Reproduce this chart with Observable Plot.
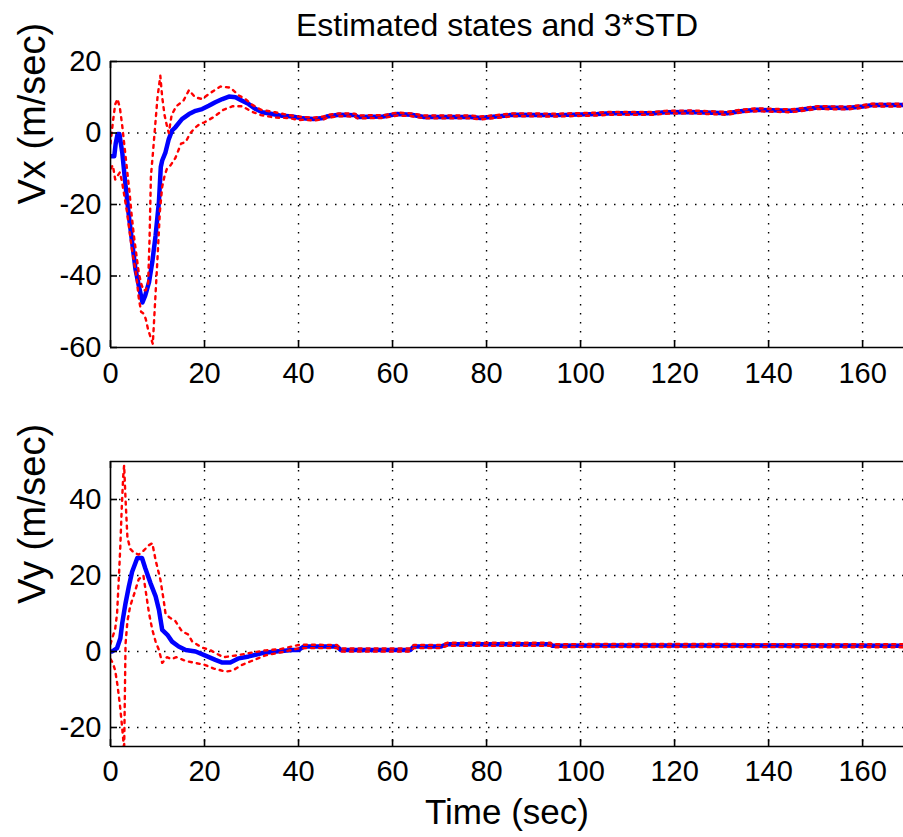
<!DOCTYPE html>
<html>
<head>
<meta charset="utf-8">
<script src="https://cdn.jsdelivr.net/npm/d3@7"></script>
<script src="https://cdn.jsdelivr.net/npm/@observablehq/plot@0.6"></script>
<style>
  html, body { margin: 0; padding: 0; background: #fff; overflow: hidden; }
  #wrap { position: relative; width: 903px; height: 837px; background: #fff; font-family: "Liberation Sans", Arial, Helvetica, sans-serif; }
  #title { position: absolute; z-index: 5; top: 9px; left: 497px; transform: translateX(-50%); white-space: nowrap; font-size: 32px; line-height: 32px; color: #000; }
  .panel { position: absolute; left: 0; z-index: 1; }
  .panel svg { display: block; }
</style>
</head>
<body>
<div id="wrap">
  <div class="panel" id="p1" style="top:0px"></div>
  <div class="panel" id="p2" style="top:420px"></div>
  <div id="title"></div>
</div>
<script>
// ---------- tick labels / domains ----------
const xTicks = [0, 20, 40, 60, 80, 100, 120, 140, 160];
const xDomain = [0, 168.7];
const vxTicks = [-60, -40, -20, 0, 20];
const vxDomain = [-60, 20];
const vyTicks = [-20, 0, 20, 40];
const vyDomain = [-25, 50];
const titleText = "Estimated states and 3*STD";
const vxLabel = "Vx (m/sec)";
const vyLabel = "Vy (m/sec)";
const xLabel = "Time (sec)";

// ---------- Vx estimate (blue) ----------
const vxT = [0, 0.8, 1.1, 1.5, 1.9, 2.5, 3.2, 3.9, 4.6, 5.3, 6.0, 6.8, 7.4, 8.2, 8.9, 9.6, 10.3, 10.7, 11.0, 11.7, 12.4, 13.1, 13.8, 15.2, 16.7, 18.1, 19.5, 20.9, 22.3, 23.8, 25.2, 26.6, 28.0, 29.4, 30.9, 32.3, 34.4, 36.5, 38.7, 40.8, 43.2, 45.3, 46, 48.6, 52, 52.5, 58, 61, 64, 66.7, 76.6, 78.7, 82, 85.8, 95, 103.6, 106.4, 115.6, 118, 123.4, 131.2, 134, 137.5, 144.7, 148, 150.4, 156.7, 160, 162, 168.7];
const vxEst = [-6.5, -6.5, -3, -0.3, -0.3, -5.4, -14.7, -23, -30.5, -38, -42.6, -47.4, -45.4, -41.7, -36, -28.6, -19.3, -9.5, -7.7, -5.4, -1.7, 0.7, 1.6, 3.9, 5.3, 6.2, 6.7, 7.6, 8.6, 9.5, 10.2, 10.0, 9.0, 8.1, 6.7, 5.8, 5.3, 4.8, 4.6, 4.1, 3.9, 4.2, 4.6, 5.1, 5.0, 4.5, 4.6, 5.3, 5.1, 4.5, 4.5, 4.2, 4.6, 5.1, 5.0, 5.3, 5.5, 5.5, 5.8, 5.9, 5.5, 6.1, 6.5, 6.2, 6.7, 7.1, 7.0, 7.4, 7.8, 7.8];

// ---------- Vx + 3 STD (red) ----------
const vxUpT = [0, 0.5, 1.0, 1.5, 2.0, 2.5, 3.0, 3.5, 4.0, 4.5, 5.0, 5.5, 6.0, 6.5, 7.0, 7.5, 8.0, 8.3, 8.6, 9.0, 9.5, 10.0, 10.6, 11.0, 11.5, 12.0, 12.4, 13.0, 14.0, 15.5, 16.7, 18.0, 19.5, 21.0, 23.4, 25.5, 27.3, 28.7, 30, 32, 35, 38, 40,
  40.8, 43.2, 45.3, 46, 48.6, 52, 52.5, 58, 61, 64, 66.7, 76.6, 78.7, 82, 85.8, 95, 103.6, 106.4, 115.6, 118, 123.4, 131.2, 134, 137.5, 144.7, 148, 150.4, 156.7, 160, 162, 168.7];
const vxUp = [-3, 3, 8, 9.5, 7, 2, -4, -10, -16, -23, -29, -34, -39, -42, -44, -44, -42, -30, -12, -6, 2, 10, 16, 10, 5, 2, 0, 5, 7.5, 9, 12, 10, 9.5, 11, 13, 12.7, 10.5, 9.5, 8, 6.5, 5.8, 5.0, 4.6,
  4.5, 4.3, 4.6, 5.0, 5.5, 5.4, 4.9, 5.0, 5.7, 5.5, 4.9, 4.9, 4.6, 5.0, 5.5, 5.4, 5.7, 5.9, 5.9, 6.2, 6.3, 5.9, 6.5, 6.9, 6.6, 7.1, 7.5, 7.4, 7.8, 8.2, 8.2];

// ---------- Vx - 3 STD (red) ----------
const vxLoT = [0, 0.5, 1.0, 1.5, 2.0, 2.5, 3.0, 3.5, 4.0, 4.5, 5.0, 5.5, 6.0, 6.5, 7.0, 7.5, 8.0, 8.5, 9.0, 9.5, 10.0, 10.5, 11.0, 11.5, 12.0, 12.8, 13.8, 15.0, 16.0, 17.0, 18.0, 19.0, 20.0, 22.0, 24.0, 26.0, 28.0, 30.0, 32.0, 35.0, 38, 40,
  40.8, 43.2, 45.3, 46, 48.6, 52, 52.5, 58, 61, 64, 66.7, 76.6, 78.7, 82, 85.8, 95, 103.6, 106.4, 115.6, 118, 123.4, 131.2, 134, 137.5, 144.7, 148, 150.4, 156.7, 160, 162, 168.7];
const vxLo = [-10, -9, -13, -12, -11, -14, -18, -22, -27, -32, -36, -40, -46, -50, -50.5, -52, -55, -57, -59, -47, -35, -22, -15, -12, -10, -9, -7, -3, -2.5, 0, 1.5, 2.5, 3, 4.5, 6.5, 7.5, 7.5, 6, 5, 4.3, 4.2, 3.6,
  3.7, 3.5, 3.8, 4.2, 4.7, 4.6, 4.1, 4.2, 4.9, 4.7, 4.1, 4.1, 3.8, 4.2, 4.7, 4.6, 4.9, 5.1, 5.1, 5.4, 5.5, 5.1, 5.7, 6.1, 5.8, 6.3, 6.7, 6.6, 7.0, 7.4, 7.4];

// ---------- Vy estimate (blue) ----------
const vyT = [0, 0.35, 1.4, 2.1, 2.5, 3.2, 3.9, 4.6, 5.7, 6.7, 7.4, 8.5, 9.6, 10.3, 11.0, 12.1, 13.1, 14.5, 16.0, 18.1, 20.2, 22.3, 23.8, 25.5, 27.3, 29.4, 32.3, 35.1, 38.7, 40.0, 41.1, 48.2, 49, 50.4, 63.8, 64.5, 70.2, 71.6, 93.6, 94, 104.3, 168.7];
const vyEst = [0, 0, 0.9, 3.5, 7.5, 12.7, 17.1, 21, 24.6, 24.6, 21.9, 18, 14.5, 11, 5.7, 4.4, 2.6, 1.3, 0.4, 0, -1.1, -2.2, -2.9, -2.9, -1.8, -1.3, -0.4, 0, 0.4, 0.4, 1.3, 1.3, 0.4, 0.4, 0.4, 1.3, 1.3, 1.9, 1.9, 1.5, 1.6, 1.5];

// ---------- Vy + 3 STD (red) ----------
const vyUpT = [0, 0.5, 1.0, 1.4, 1.8, 2.1, 2.4, 2.7, 2.9, 3.2, 3.6, 4.2, 5.0, 6.0, 7.0, 8.2, 8.9, 9.6, 10.6, 11.3, 11.7, 12.5, 13.8, 15.2, 16.5, 17.4, 19.5, 21, 24, 27, 30, 33, 36, 40, 42,
  48.2, 49, 50.4, 63.8, 64.5, 70.2, 71.6, 93.6, 94, 104.3, 168.7];
const vyUp = [2, 4, 6, 10, 20, 28, 38, 46, 49, 40, 30, 27, 26, 25.5, 26.5, 28, 28.5, 24, 19, 13.6, 10, 9, 8, 5.3, 4.5, 2.6, 1, 0.5, -1.5, -1, -0.3, 0.3, 0.6, 1.7, 1.8,
  1.7, 0.8, 0.8, 0.8, 1.7, 1.7, 2.3, 2.3, 1.9, 2.0, 1.9];

// ---------- Vy - 3 STD (red) ----------
const vyLoT = [0, 0.5, 1.0, 1.5, 2.0, 2.4, 2.7, 2.9, 3.2, 3.6, 4.2, 5.0, 6.0, 7.0, 8.2, 8.9, 9.6, 10.3, 11.0, 12.0, 13.0, 14.0, 16.0, 18.0, 20.0, 22.0, 23.0, 24.5, 26, 28.0, 30.0, 33.0, 36.0, 40.0, 42,
  48.2, 49, 50.4, 63.8, 64.5, 70.2, 71.6, 93.6, 94, 104.3, 168.7];
const vyLo = [-2, -3, -5, -9, -14, -19, -23, -26, 2, 8, 12, 15, 19, 20, 10, 5.7, 2.6, 0.4, -3, -1.5, -2, -1.5, -2.5, -3, -3.5, -4.5, -4.8, -5.3, -5, -3.5, -2.5, -1, -0.3, 0.8, 0.9,
  0.9, 0.0, 0.0, 0.0, 0.9, 0.9, 1.5, 1.5, 1.1, 1.2, 1.1];

// ---------- drawing ----------
const zip = (t, v) => t.map((x, i) => ({t: x, v: v[i]}));
const W = 903, TICK = 7;
const FONT = "'Liberation Sans', Arial, Helvetica, sans-serif";
const fmt = d => String(d);

function panel({height, marginTop, marginBottom, yDomain, yTicks, est, up, lo, yLabel, withXLabel}) {
  const marginLeft = 110, marginRight = 0;
  const fw = W - marginLeft - marginRight;
  const fh = height - marginTop - marginBottom;
  const gridStyle = {stroke: "black", strokeOpacity: 1, strokeWidth: 1.4, strokeDasharray: "1.5,7.5"};
  const redStyle = {stroke: "#ff0000", strokeWidth: 2.4, strokeDasharray: "3,5", clip: true};
  const marks = [
    Plot.ruleX(xTicks.filter(d => d > xDomain[0]), gridStyle),
    Plot.ruleY(yTicks.filter(d => d > yDomain[0] && d < yDomain[1]), gridStyle),
    Plot.line(est, {x: "t", y: "v", stroke: "#0000ff", strokeWidth: 4.5, clip: true}),
    Plot.line(up, {x: "t", y: "v", ...redStyle}),
    Plot.line(lo, {x: "t", y: "v", ...redStyle}),
    Plot.ruleX([xDomain[0]], {stroke: "black", strokeWidth: 1.6}),
    Plot.ruleY([yDomain[0]], {stroke: "black", strokeWidth: 1.6}),
    Plot.ruleY([yDomain[1]], {stroke: "black", strokeWidth: 1.6}),
    Plot.tickX(xTicks, {x: d => d, stroke: "black", strokeWidth: 1.6, insetTop: fh - TICK}),
    Plot.tickX(xTicks, {x: d => d, stroke: "black", strokeWidth: 1.6, insetBottom: fh - TICK}),
    Plot.tickY(yTicks, {y: d => d, stroke: "black", strokeWidth: 1.6, insetRight: fw - TICK}),
    Plot.text([yLabel], {text: d => d, frameAnchor: "left", dx: -78, rotate: -90, fontSize: 38, fill: "black"})
  ];
  if (withXLabel) {
    marks.push(Plot.text([xLabel], {text: d => d, frameAnchor: "bottom", lineAnchor: "bottom", dy: 77, fontSize: 35, fill: "black"}));
  }
  return Plot.plot({
    width: W, height, marginLeft, marginRight, marginTop, marginBottom,
    style: {fontFamily: FONT, fontSize: "29px", color: "black", background: "white", overflow: "visible"},
    x: {domain: xDomain, ticks: xTicks, tickFormat: fmt, tickSize: 0, tickPadding: withXLabel ? 14 : 15, label: null},
    y: {domain: yDomain, ticks: yTicks, tickFormat: fmt, tickSize: 0, tickPadding: 9, label: null},
    marks
  });
}

document.getElementById("p1").appendChild(panel({
  height: 420, marginTop: 61, marginBottom: 73,
  yDomain: vxDomain, yTicks: vxTicks,
  est: zip(vxT, vxEst), up: zip(vxUpT, vxUp), lo: zip(vxLoT, vxLo),
  yLabel: vxLabel, withXLabel: false
}));
document.getElementById("p2").appendChild(panel({
  height: 417, marginTop: 41, marginBottom: 91,
  yDomain: vyDomain, yTicks: vyTicks,
  est: zip(vyT, vyEst), up: zip(vyUpT, vyUp), lo: zip(vyLoT, vyLo),
  yLabel: vyLabel, withXLabel: true
}));
document.getElementById("title").textContent = titleText;
</script>
</body>
</html>
